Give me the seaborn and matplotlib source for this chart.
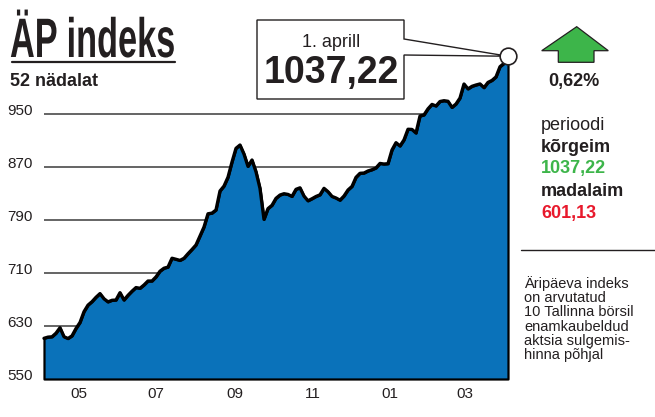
import numpy as np
import pandas as pd
import matplotlib
matplotlib.use("Agg")
import matplotlib.pyplot as plt
import matplotlib.patheffects as pe
import seaborn as sns
from matplotlib.patches import Polygon
from matplotlib.transforms import Affine2D, ScaledTranslation

# ÄP index, 52 weeks (roughly every 3 days)
values = [
    611.4, 613.2, 613.7, 619.1, 627.4, 613.8, 611.1, 615.1, 626.2, 635.3,
    651.6, 661.5, 666.7, 673.3, 678.9, 671.1, 666.4, 668.8, 669.2, 680.3,
    669.2, 676.3, 682.5, 688.0, 686.9, 691.9, 697.9, 697.9, 704.1, 712.7,
    717.2, 718.9, 732.3, 730.7, 729.0, 732.2, 739.1, 745.5, 752.3, 765.8,
    779.4, 799.4, 800.4, 805.1, 833.8, 841.2, 854.6, 877.5, 898.2, 903.2,
    889.6, 871.0, 880.6, 862.9, 837.8, 791.0, 807.2, 812.2, 822.7, 827.7,
    829.7, 828.6, 825.6, 836.3, 838.6, 826.1, 819.0, 822.1, 825.5, 828.0,
    837.8, 832.7, 825.6, 823.2, 819.9, 826.2, 835.3, 840.7, 854.4, 860.5,
    860.9, 864.0, 865.9, 868.6, 875.4, 874.5, 875.0, 895.7, 906.7, 901.7,
    910.9, 927.0, 926.7, 921.3, 947.0, 948.6, 957.8, 964.5, 962.1, 968.9,
    970.1, 969.2, 960.0, 965.1, 974.1, 995.3, 987.9, 991.8, 993.8, 995.4,
    989.8, 997.7, 1000.7, 1006.0, 1021.4, 1026.4, 1037.22,
]
start_date = "2005-04-01"
end_date = "2006-04-01"
y_ticks = [550, 630, 710, 790, 870, 950]
month_ticks = ["2005-05-01", "2005-07-01", "2005-09-01", "2005-11-01", "2006-01-01", "2006-03-01"]
month_labels = ["05", "07", "09", "11", "01", "03"]
notes = ["Äripäeva indeks", "on arvutatud", "10 Tallinna börsil",
         "enamkaubeldud", "aktsia sulgemis-", "hinna põhjal"]

BLUE = "#0a72ba"
INK = "#231f20"
GREEN = "#3db54a"
RED = "#e8192c"

dates = pd.date_range(start_date, end_date, periods=len(values))
df = pd.DataFrame({"date": dates, "index": values})

sns.set_theme(style="white")
plt.rcParams["font.family"] = ["Liberation Sans", "DejaVu Sans"]

W, H = 655, 417
fig = plt.figure(figsize=(W / 100, H / 100), dpi=100)


def fx(x):
    return x / W


def fy(y):
    return 1 - y / H


ax = fig.add_axes([fx(44), fy(379), 464 / W, (379 - 54.4) / H])
ax.patch.set_visible(False)

ax.fill_between(df["date"], df["index"], 550, facecolor=BLUE, edgecolor="black",
                linewidth=1.6, clip_on=False, zorder=2)
sns.lineplot(data=df, x="date", y="index", ax=ax, color="black", linewidth=2.4,
             zorder=3, clip_on=False)
ax.plot(dates[-1], values[-1], "o", ms=12, mfc="white", mec=INK, mew=1.2,
        clip_on=False, zorder=5)

ax.set_xlim(dates[0], dates[-1])
ax.set_ylim(550, 1040)
ax.set_yticks(y_ticks)
ax.set_yticklabels([str(t) for t in y_ticks])
ax.set_xticks(pd.to_datetime(month_ticks))
ax.set_xticklabels(month_labels)
ax.yaxis.grid(True, color="#3a3a3a", linewidth=1.1)
ax.xaxis.grid(False)
ax.set_axisbelow(True)
ax.tick_params(axis="both", length=0, labelsize=11, colors=INK)
ax.tick_params(axis="y", pad=8)
ax.tick_params(axis="x", pad=6)
for sp in ax.spines.values():
    sp.set_visible(False)
ax.set_xlabel("")
ax.set_ylabel("")
shift_y = ScaledTranslation(0, 0.045, fig.dpi_scale_trans)
for lab in ax.get_yticklabels():
    lab.set_transform(lab.get_transform() + shift_y)
shift_x = ScaledTranslation(-0.035, 0, fig.dpi_scale_trans)
for lab in ax.get_xticklabels():
    lab.set_transform(lab.get_transform() + shift_x)


# condensed title: squeeze the glyphs horizontally
class Squeeze(pe.AbstractPathEffect):
    def __init__(self, sx):
        super().__init__()
        self.sx = sx

    def draw_path(self, renderer, gc, tpath, affine, rgbFace=None):
        renderer.draw_path(gc, tpath, Affine2D().scale(self.sx, 1) + affine, rgbFace)


title = fig.text(fx(10), fy(57), "ÄP indeks", fontsize=40, fontweight="bold", color=INK,
                 family=["Liberation Sans Narrow", "Liberation Sans", "DejaVu Sans"],
                 va="baseline", ha="left")
renderer = fig.canvas.get_renderer()
tw = title.get_window_extent(renderer).width
title.set_path_effects([Squeeze(165 / tw)])
fig.add_artist(plt.Line2D([fx(12), fx(175)], [fy(62), fy(62)], color=INK, lw=1.6))
fig.text(fx(10), fy(86), "52 nädalat", fontsize=13, fontweight="bold", color=INK, va="baseline")

# callout box pointing to the last value
tip = fig.transFigure.inverted().transform(
    ax.transData.transform((matplotlib.dates.date2num(dates[-1]), values[-1])))
box = Polygon([(fx(257), fy(20)), (fx(404), fy(20)), (fx(404), fy(39)), tuple(tip),
               (fx(404), fy(55)), (fx(404), fy(99)), (fx(257), fy(99))],
              closed=True, transform=fig.transFigure, facecolor="white",
              edgecolor=INK, linewidth=1.0, zorder=-1)
fig.add_artist(box)
fig.text(fx(331), fy(47), "1. aprill", fontsize=13, color=INK, ha="center", va="baseline")
fig.text(fx(331), fy(83), "1037,22", fontsize=27, fontweight="bold", color=INK,
         ha="center", va="baseline")

# green up arrow and change
arrow = Polygon([(fx(541.7), fy(50.7)), (fx(576.7), fy(26.7)), (fx(608.3), fy(50.7)),
                 (fx(594), fy(50.7)), (fx(594), fy(62.3)), (fx(558.3), fy(62.3)),
                 (fx(558.3), fy(50.7))], closed=True, transform=fig.transFigure,
                facecolor=GREEN, edgecolor=INK, linewidth=0.9)
fig.add_artist(arrow)
fig.text(fx(574), fy(86), "0,62%", fontsize=13, fontweight="bold", color=INK,
         ha="center", va="baseline")

fig.text(fx(541), fy(129.5), "perioodi", fontsize=13, color=INK, va="baseline")
fig.text(fx(541), fy(151.5), "kõrgeim", fontsize=13, fontweight="bold", color=INK, va="baseline")
fig.text(fx(541), fy(173), "1037,22", fontsize=13, fontweight="bold", color=GREEN, va="baseline")
fig.text(fx(541), fy(196.5), "madalaim", fontsize=13, fontweight="bold", color=INK, va="baseline")
fig.text(fx(541), fy(218.5), "601,13", fontsize=13, fontweight="bold", color=RED, va="baseline")

fig.add_artist(plt.Line2D([fx(521), fx(655)], [fy(249.5), fy(249.5)], color=INK, lw=1.0))
for i, line in enumerate(notes):
    fig.text(fx(524), fy(288 + 14.2 * i), line, fontsize=10.5, color=INK, va="baseline")

fig.savefig("out.png", dpi=100)
